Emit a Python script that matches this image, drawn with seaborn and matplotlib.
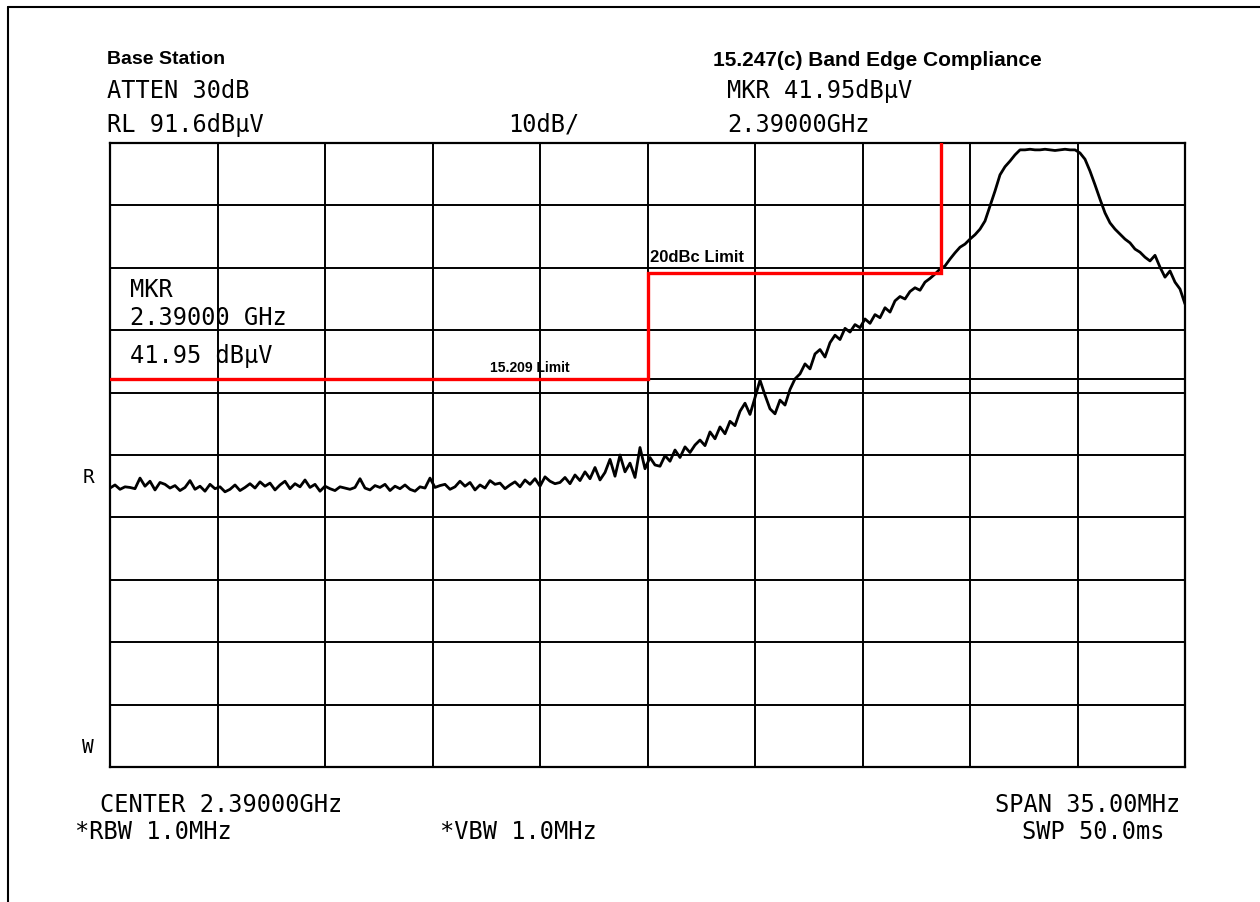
import numpy as np
import pandas as pd
import matplotlib
matplotlib.use("Agg")
import matplotlib.pyplot as plt
import seaborn as sns

# ---------------- data ----------------
start_mhz = 2372.5
stop_mhz = 2407.5
ref_level = 91.6          # dBuV (top of screen)
db_per_div = 10.0

trace_levels = [
    # noise floor
    36.3, 36.8, 36.1, 36.5, 36.4, 36.2, 37.9, 36.6, 37.4, 36.0,
    37.2, 36.9, 36.3, 36.7, 35.9, 36.4, 37.5, 36.1, 36.6, 35.8,
    36.9, 36.2, 36.5, 35.7, 36.1, 36.8, 35.9, 36.4, 37.0, 36.3,
    37.3, 36.6, 37.1, 36.0, 36.8, 37.4, 36.2, 37.0, 36.5, 37.6,
    36.4, 36.9, 35.8, 36.6, 36.2, 35.9, 36.5, 36.3, 36.1, 36.4,
    37.8, 36.3, 36.0, 36.7, 36.4, 36.9, 35.9, 36.6, 36.2, 36.8,
    36.1, 35.8, 36.5, 36.3, 37.9, 36.4, 36.7, 36.9, 36.1, 36.5,
    37.4, 36.6, 37.2, 36.0, 36.8, 36.3, 37.5, 36.9, 37.1, 36.2,
    36.8, 37.3, 36.5, 37.6, 36.9, 37.8, 36.6, 38.1, 37.4, 37.0,
    # rising skirt
    37.2, 38.0, 37.0, 38.4, 37.5, 38.9, 37.8, 39.6, 37.6, 38.8,
    40.9, 38.2, 41.6, 38.9, 40.3, 38.0, 42.8, 39.4, 41.2, 40.0,
    39.8, 41.5, 40.6, 42.4, 41.2, 42.9, 42.0, 43.2, 44.0, 43.1,
    45.3, 44.2, 46.1, 45.0, 47.0, 46.3, 48.6, 49.9, 48.1, 50.8,
    53.6, 51.2, 49.0, 48.2, 50.4, 49.6, 52.1, 53.8, 54.6, 56.2,
    55.4, 57.8, 58.5, 57.3, 59.6, 60.8, 60.1, 61.9, 61.3, 62.5,
    62.0, 63.4, 62.7, 64.1, 63.6, 65.2, 64.5, 66.3, 67.0, 66.6,
    67.8, 68.4, 68.0, 69.3, 69.9, 70.6,
    71.4,
    # main lobe
    71.9, 73.0, 74.0, 74.9, 75.4, 76.2, 76.9, 77.8, 79.1, 81.5,
    83.9, 86.5, 87.8, 88.7, 89.7, 90.5,
    90.5, 90.6, 90.5, 90.5, 90.6, 90.5, 90.4, 90.5, 90.6, 90.5, 90.5,
    90.0, 89.0, 87.1, 84.9, 82.6, 80.4, 78.8, 77.8, 77.0, 76.2,
    75.6, 74.6, 74.1, 73.3, 72.7, 73.6, 71.7, 70.1, 71.1, 69.3,
    68.2, 65.8,
]

limit_freqs = [2372.5, 2390.0, 2390.0, 2399.55, 2399.55]
limit_levels = [53.8, 53.8, 70.8, 70.8, 91.6]
display_line = 53.8

# ---------------- style ----------------
sns.set_theme(style="white")
plt.rcParams["font.family"] = ["DejaVu Sans"]
plt.rcParams["text.color"] = "black"

W, H = 1260, 903
fig = plt.figure(figsize=(W / 100, H / 100), dpi=100)
fig.patch.set_facecolor("white")

ax = fig.add_axes([110 / W, 1 - 768 / H, 1075 / W, 624 / H])
ax.set_facecolor("white")

freqs = np.linspace(start_mhz, stop_mhz, len(trace_levels))
df = pd.DataFrame({"freq": freqs, "level": trace_levels})

bottom_level = ref_level - 10 * db_per_div
ax.set_xlim(start_mhz, stop_mhz)
ax.set_ylim(bottom_level, ref_level)
ax.set_xticks(np.linspace(start_mhz, stop_mhz, 11))
ax.set_yticks(np.linspace(bottom_level, ref_level, 11))
ax.tick_params(length=0, labelbottom=False, labelleft=False)
ax.grid(True, color="black", lw=1.4)
ax.set_axisbelow(True)
for s in ax.spines.values():
    s.set_color("black")
    s.set_linewidth(1.6)

ax.axhline(display_line, color="black", lw=1.4, zorder=2)
sns.lineplot(data=df, x="freq", y="level", color="black", lw=2.0,
             ax=ax, zorder=3, legend=False)
ax.plot(limit_freqs, limit_levels, color="#ff0000", lw=2.4, zorder=4,
        solid_joinstyle="miter")
ax.set_xlabel("")
ax.set_ylabel("")

# ---------------- texts ----------------
def ptext(x, y, s, **kw):
    fig.text(x / W, 1 - y / H, s, color="black", **kw)

mono = dict(family=["DejaVu Sans Mono", "DejaVu Sans"], fontsize=17, va="center")
hand = dict(family=["Liberation Sans", "DejaVu Sans"], fontweight="bold",
            va="center")

ptext(107, 60, "Base Station", fontsize=14, **hand)
ptext(713, 60, "15.247(c) Band Edge Compliance", fontsize=15, **hand)

ptext(107, 91, "ATTEN 30dB", ha="left", **mono)
ptext(107, 125, "RL 91.6dBμV", ha="left", **mono)
ptext(508, 125, "10dB/", ha="left", **mono)
ptext(727, 91, "MKR 41.95dBμV", ha="left", **mono)
ptext(727, 125, "2.39000GHz", ha="left", **mono)

ptext(130, 290, "MKR", ha="left", **mono)
ptext(130, 318, "2.39000 GHz", ha="left", **mono)
ptext(130, 356, "41.95 dBμV", ha="left", **mono)

ptext(650, 257, "20dBc Limit", fontsize=12, **hand)
ptext(490, 368, "15.209 Limit", fontsize=10, **hand)

ptext(88, 478, "R", ha="center", family=["DejaVu Sans Mono"], fontsize=14, va="center")
ptext(88, 748, "W", ha="center", family=["DejaVu Sans Mono"], fontsize=14, va="center")

ptext(100, 805, "CENTER 2.39000GHz", ha="left", **mono)
ptext(1180, 805, "SPAN 35.00MHz", ha="right", **mono)
ptext(75, 832, "*RBW 1.0MHz", ha="left", **mono)
ptext(440, 832, "*VBW 1.0MHz", ha="left", **mono)
ptext(1165, 832, "SWP 50.0ms", ha="right", **mono)

# outer frame (left and top edges of the scanned page)
fig.add_artist(plt.Line2D([8 / W, 8 / W], [0, 1 - 8 / H], color="black", lw=1.5,
                          transform=fig.transFigure))
fig.add_artist(plt.Line2D([8 / W, 1], [1 - 8 / H, 1 - 8 / H], color="black", lw=1.5,
                          transform=fig.transFigure))

fig.savefig("out.png", dpi=100, facecolor="white")
